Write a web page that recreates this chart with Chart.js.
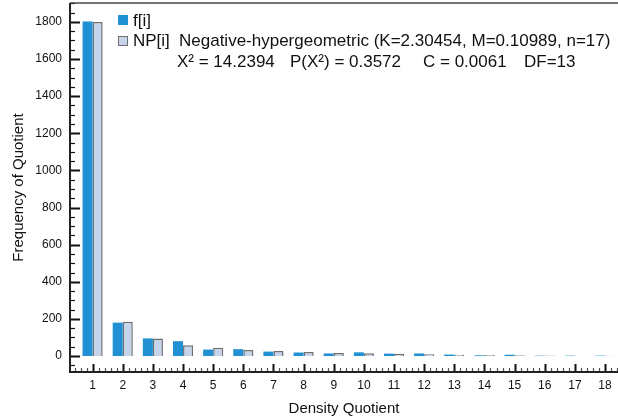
<!DOCTYPE html>
<html>
<head>
<meta charset="utf-8">
<script src="https://cdn.jsdelivr.net/npm/chart.js@4"></script>
<style>
  html, body { margin: 0; padding: 0; background: #fff; overflow: hidden; }
  #wrap { width: 618px; height: 418px; }
</style>
</head>
<body>
<div id="wrap"><canvas id="c" width="618" height="418"></canvas></div>
<script>
// Density quotient classes
const quotients = [1, 2, 3, 4, 5, 6, 7, 8, 9, 10, 11, 12, 13, 14, 15, 16, 17, 18];
// Observed frequencies f[i]
const observed = [1802, 180, 95, 80, 35, 37, 24, 19, 14, 20, 13, 14, 8, 4, 7, 2, 2, 2];
// Expected frequencies NP[i] from the negative-hypergeometric fit
const expected = [1800, 185, 94, 58, 44, 33, 27, 22, 17, 15, 12, 9, 7, 5, 4, 3, 2, 1];
// Axis tick values
const yTickValues = [0, 200, 400, 600, 800, 1000, 1200, 1400, 1600, 1800];
const xTickValues = quotients;

const legendLabels = ['f[i]', 'NP[i]'];
const fitLabel = 'Negative-hypergeometric (K=2.30454, M=0.10989, n=17)';
const statParts = ['X\u00B2 = 14.2394', 'P(X\u00B2) = 0.3572', 'C = 0.0061', 'DF=13'];

const FONT = '"Liberation Sans", Arial, Helvetica, sans-serif';
const BLUE = '#2191d3';
const PALE = '#c5d4ea';
const EDGE = '#6e6e6e';

// Frame and inward-pointing tick marks
const frameTicks = {
  id: 'frameTicks',
  afterDraw(chart) {
    const { ctx, chartArea: a, scales: { x, y } } = chart;
    ctx.save();
    ctx.strokeStyle = '#111';
    for (let v = -50; v <= 1900; v += 50) {
      const py = Math.round(y.getPixelForValue(v)) + 0.5;
      if (py < a.top || py > a.bottom) continue;
      const major = v % 200 === 0;
      ctx.lineWidth = major ? 2 : 1.2;
      ctx.beginPath();
      ctx.moveTo(a.left, py);
      ctx.lineTo(a.left + (major ? 10 : 5), py);
      ctx.stroke();
    }
    for (let k = 2; k <= 95; k++) {
      const v = k / 5;
      const px = Math.round(x.getPixelForValue(v)) + 0.5;
      if (px < a.left || px > a.right) continue;
      const major = k % 5 === 0;
      ctx.lineWidth = major ? 2 : 1.2;
      ctx.strokeStyle = major ? '#111' : '#555';
      ctx.beginPath();
      ctx.moveTo(px, a.bottom);
      ctx.lineTo(px, a.bottom - (major ? 8 : 4));
      ctx.stroke();
    }
    ctx.strokeStyle = '#222';
    ctx.lineWidth = 2;
    ctx.beginPath();
    ctx.moveTo(a.left, a.top);
    ctx.lineTo(a.left, a.bottom);
    ctx.lineTo(a.right, a.bottom);
    ctx.stroke();
    ctx.strokeStyle = '#444';
    ctx.lineWidth = 1.5;
    ctx.beginPath();
    ctx.moveTo(a.left, a.top);
    ctx.lineTo(a.right, a.top);
    ctx.stroke();
    ctx.restore();
  }
};

// Legend with the fit statistics
const fitLegend = {
  id: 'fitLegend',
  afterDraw(chart) {
    const { ctx } = chart;
    ctx.save();
    ctx.font = '17px ' + FONT;
    ctx.textBaseline = 'middle';
    ctx.fillStyle = BLUE;
    ctx.fillRect(118, 15, 10, 10);
    ctx.fillStyle = PALE;
    ctx.fillRect(118, 36, 10, 10);
    ctx.strokeStyle = EDGE;
    ctx.lineWidth = 1;
    ctx.strokeRect(118.5, 36.5, 9, 9);
    ctx.fillStyle = '#111';
    ctx.fillText(legendLabels[0], 133, 21);
    ctx.fillText(legendLabels[1], 133, 41);
    ctx.fillText(fitLabel, 179, 41);
    const statX = [177, 290, 423, 524];
    statParts.forEach((s, i) => ctx.fillText(s, statX[i], 62));
    ctx.restore();
  }
};

new Chart(document.getElementById('c'), {
  type: 'bar',
  data: {
    datasets: [
      {
        label: legendLabels[0],
        data: quotients.map((q, i) => ({ x: q, y: observed[i] })),
        backgroundColor: BLUE,
        borderColor: BLUE,
        borderWidth: 0,
        categoryPercentage: 0.667,
        barPercentage: 1
      },
      {
        label: legendLabels[1],
        data: quotients.map((q, i) => ({ x: q, y: expected[i] })),
        backgroundColor: PALE,
        borderColor: EDGE,
        borderWidth: 1.5,
        categoryPercentage: 0.667,
        barPercentage: 1
      }
    ]
  },
  options: {
    responsive: false,
    animation: false,
    layout: { padding: { top: 3, right: 0, left: 0, bottom: 0 } },
    plugins: { legend: { display: false }, tooltip: { enabled: false } },
    scales: {
      x: {
        type: 'linear',
        min: 0.25,
        max: 18.43,
        offset: false,
        grid: { display: false, drawTicks: false },
        border: { display: false },
        afterBuildTicks: s => { s.ticks = xTickValues.map(v => ({ value: v })); },
        afterFit: s => { s.height = 46; s.paddingLeft = 0; s.paddingRight = 0; },
        ticks: { color: '#111', font: { family: FONT, size: 12 }, padding: 6, autoSkip: false, maxRotation: 0,
                 callback: v => String(v) },
        title: { display: true, text: 'Density Quotient', color: '#111', font: { family: FONT, size: 15 }, padding: { top: 0, bottom: 0 } }
      },
      y: {
        min: -86,
        max: 1902,
        grid: { display: false, drawTicks: false },
        border: { display: false },
        afterBuildTicks: s => { s.ticks = yTickValues.map(v => ({ value: v })); },
        afterFit: s => { s.width = 70; s.paddingTop = 0; s.paddingBottom = 0; },
        ticks: { color: '#111', font: { family: FONT, size: 12 }, padding: 8,
                 callback: v => String(v) },
        title: { display: true, text: 'Frequency of Quotient', color: '#111', font: { family: FONT, size: 15 }, padding: { top: 10, bottom: 0 } }
      }
    }
  },
  plugins: [frameTicks, fitLegend]
});
</script>
</body>
</html>
